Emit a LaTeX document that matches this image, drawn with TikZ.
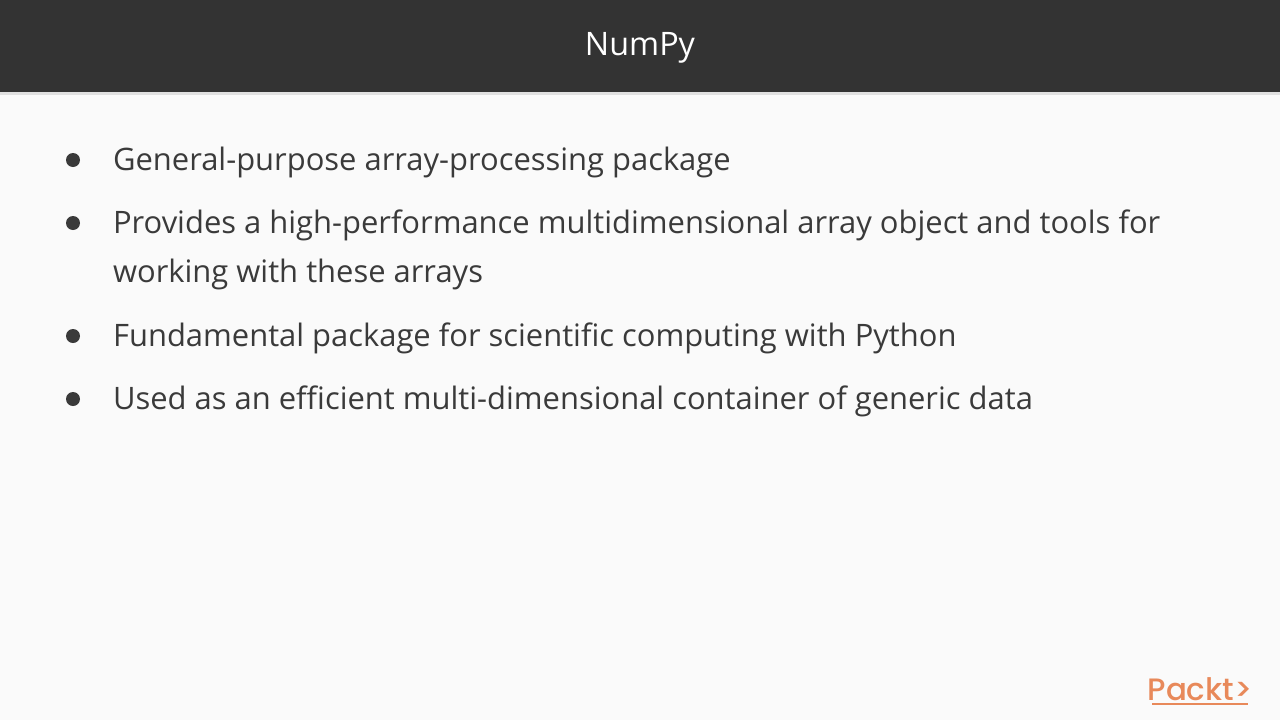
\documentclass[tikz,border=0pt]{standalone}
\usepackage{fontspec}
\setmainfont{Open Sans}
\newfontfamily\logofont{Poppins}[UprightFont=* Medium]
\definecolor{hdr}{HTML}{333333}
\definecolor{bg}{HTML}{FAFAFA}
\definecolor{txt}{HTML}{3A3A3A}
\definecolor{packt}{HTML}{E8895A}
\begin{document}
\begin{tikzpicture}[x=0.1cm,y=-0.1cm,
  body/.style={anchor=west,inner sep=0pt,text=txt,font=\fontsize{88}{100}\selectfont},
  dot/.style={circle,fill=txt,inner sep=0pt,minimum size=1.4cm}]
\useasboundingbox (0,0) rectangle (1280,720);
\fill[bg] (0,0) rectangle (1280,720);
\fill[black!12] (0,92) rectangle (1280,95);
\fill[hdr] (0,0) rectangle (1280,92);
\node[text=white,font=\fontsize{92}{100}\selectfont] (title) at (640,48) {NumPy};
\node[dot] (b1) at (73,160) {};
\node[body] (t1) at (113,162) {General-purpose array-processing package};
\node[dot] (b2) at (73,223) {};
\node[body] (t2) at (113,225) {Provides a high-performance multidimensional array object and tools for};
\node[body] (t2b) at (113,274) {working with these arrays};
\node[dot] (b3) at (73,336) {};
\node[body] (t3) at (113,338) {Fundamental package for scientific computing with Python};
\node[dot] (b4) at (73,399) {};
\node[body] (t4) at (113,401) {Used as an efficient multi-dimensional container of generic data};
\node[text=packt,font=\logofont\fontsize{88}{100}\selectfont,anchor=center,inner sep=0pt] (logo) at (1200,689) {Packt\textgreater};
\draw[packt,line width=0.25cm] (1152,704) -- (1248,704);
\end{tikzpicture}
\end{document}
